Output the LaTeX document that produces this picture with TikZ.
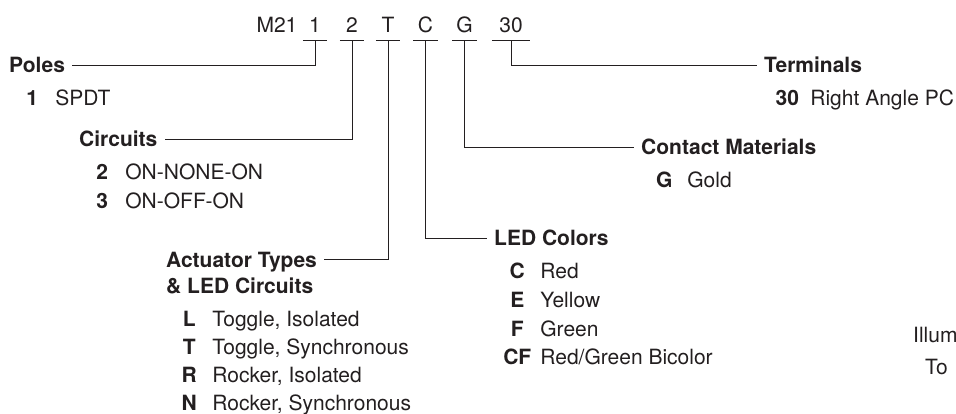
\documentclass[tikz,border=0pt]{standalone}
\usepackage{fontspec}
\setmainfont{TeX Gyre Heros}
\usepackage{tikz}
\usetikzlibrary{positioning}

\definecolor{ink}{HTML}{231F20}
\newcommand{\labelsize}{\fontsize{21}{25}\selectfont}
\newcommand{\entry}[2]{\makebox[2.2em]{\textbf{#1}}#2}

\begin{document}
\begin{tikzpicture}[
  x=1pt, y=-1pt,
  every node/.style={font=\labelsize, text=ink, inner sep=7pt,
    text height=15pt, text depth=0pt},
  title/.style={font=\labelsize\bfseries, anchor=west},
  item/.style={anchor=west},
  code/.style={minimum width=24pt, minimum height=30pt, inner sep=0pt},
  lead/.style={draw=ink, line width=0.9pt},
]
  \useasboundingbox (0,0) rectangle (956,414);

  % part number
  \node[code] (pre) at (277,25) {M21};
  \node[code] (c1)  at (315,25) {1};
  \node[code] (c2)  at (352,25) {2};
  \node[code] (cT)  at (388,25) {T};
  \node[code] (cC)  at (425.5,25) {C};
  \node[code] (cG)  at (464.5,25) {G};
  \node[code, minimum width=38pt] (c30) at (511,25) {30};

  \draw[lead] (c1.south west)  -- (c1.south east);
  \draw[lead] (c2.south west)  -- (c2.south east);
  \draw[lead] (cT.south west)  -- (cT.south east);
  \draw[lead] (cC.south west)  -- (cC.south east);
  \draw[lead] (cG.south west)  -- (cG.south east);
  \draw[lead] (c30.south west) -- (c30.south east);

  % poles
  \node[title] (pol) at (2,65) {Poles};
  \node[item, below=33pt of pol.west, anchor=west] (pol1) {\entry{1}{SPDT}};

  % circuits
  \node[title] (cir) at (72,139.5) {Circuits};
  \node[item, below=33pt of cir.west, anchor=west]    (cir2) {\entry{2}{ON-NONE-ON}};
  \node[item, below=28.5pt of cir2.west, anchor=west] (cir3) {\entry{3}{ON-OFF-ON}};

  % actuators
  \node[title] (act) at (159,259.5) {Actuator Types};
  \node[title, below=26pt of act.west, anchor=west] (act2) {\&~LED Circuits};
  \node[item, below=33pt of act2.west, anchor=west]   (actL) {\entry{L}{Toggle, Isolated}};
  \node[item, below=28.3pt of actL.west, anchor=west] (actT) {\entry{T}{Toggle, Synchronous}};
  \node[item, below=28.3pt of actT.west, anchor=west] (actR) {\entry{R}{Rocker, Isolated}};
  \node[item, below=28.3pt of actR.west, anchor=west] (actN) {\entry{N}{Rocker, Synchronous}};

  % led colors
  \node[title] (led) at (487,238) {LED Colors};
  \node[item, below=33pt of led.west, anchor=west]     (ledC)  {\entry{C}{Red}};
  \node[item, below=28.8pt of ledC.west, anchor=west]  (ledE)  {\entry{E}{Yellow}};
  \node[item, below=28.8pt of ledE.west, anchor=west]  (ledF)  {\entry{F}{Green}};
  \node[item, below=28.8pt of ledF.west, anchor=west]  (ledCF) {\entry{CF}{Red/Green Bicolor}};

  % contacts
  \node[title] (con) at (634,147) {Contact Materials};
  \node[item, below=33pt of con.west, anchor=west] (conG) {\entry{G}{Gold}};

  % terminals
  \node[title] (ter) at (757,65.5) {Terminals};
  \node[item, below=33pt of ter.west, anchor=west] (ter30) {\entry{30}{Right Angle PC}};

  % next block, cut off at the edge
  \node[item] (ill) at (906,335) {Illum};
  \node[item] (tog) at (918,366.5) {To};

  \draw[lead] (c1.south)  |- (pol.east);
  \draw[lead] (c2.south)  |- (cir.east);
  \draw[lead] (cT.south)  |- (act.east);
  \draw[lead] (cC.south)  |- (led.west);
  \draw[lead] (cG.south)  |- (con.west);
  \draw[lead] (c30.south) |- (ter.west);
\end{tikzpicture}
\end{document}
